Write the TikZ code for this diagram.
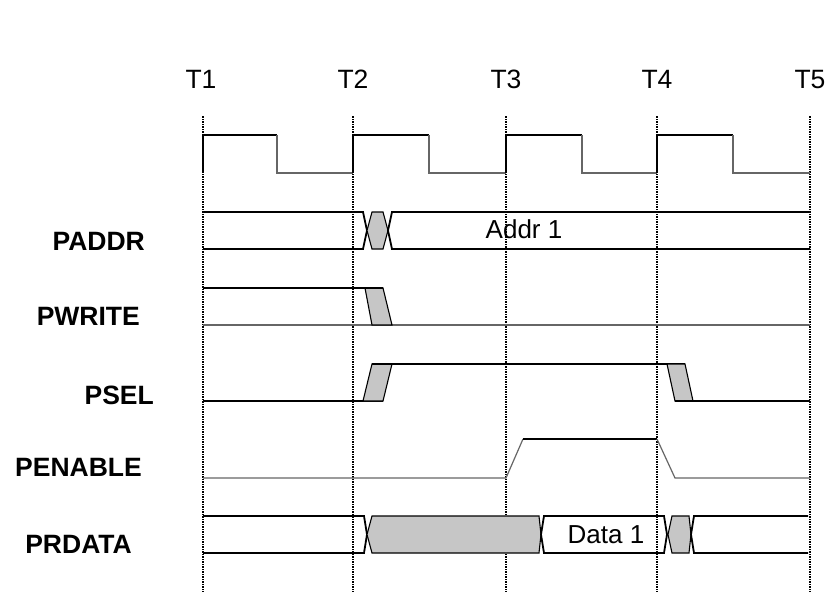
\documentclass[tikz,border=0pt]{standalone}
\usepackage{fontspec}
\setmainfont{Liberation Sans}
\usetikzlibrary{positioning}

\begin{document}
\begin{tikzpicture}[x=1pt,y=-1pt,
		sig/.style={line width=1.8pt,line join=miter},
		weak/.style={line width=1.2pt,black!60},
		grid/.style={line width=1.1pt,dash pattern=on 1.8pt off 1.2pt on 0.8pt off 1.2pt},
		trans/.style={fill=gray!45,draw=black,line width=1.1pt},
		sname/.style={font=\fontsize{26.5}{30}\selectfont\bfseries,inner sep=0pt,anchor=base east},
		tname/.style={font=\fontsize{26.5}{30}\selectfont,inner sep=0pt,anchor=base}]
			\useasboundingbox (0,0) rectangle (828,592);
			% clock edges
			\node[tname] (t_1) at (201,88.5) {T1};
			\node[tname] (t_2) at (353,88.5) {T2};
			\node[tname] (t_3) at (506,88.5) {T3};
			\node[tname] (t_4) at (657,88.5) {T4};
			\node[tname] (t_5) at (810,88.5) {T5};
			\draw[grid] (203,116) -- (203,592);
			\draw[grid] (353,116) -- (353,592);
			\draw[grid] (506,116) -- (506,592);
			\draw[grid] (657,116) -- (657,592);
			\draw[grid] (810,116) -- (810,592);
			% signal names
			\node[sname] (l_paddr) at (145,250) {PADDR};
			\node[sname] (l_pwrite) at (140,325) {PWRITE};
			\node[sname] (l_psel) at (154,404) {PSEL};
			\node[sname] (l_penable) at (142,476) {PENABLE};
			\node[sname] (l_prdata) at (132,553) {PRDATA};
			% PCLK
			\draw[sig] (203,173) -- (203,135) -- (277,135);
			\draw[weak] (277,135) -- (277,173) -- (353,173);
			\draw[sig] (353,173) -- (353,135) -- (429,135);
			\draw[weak] (429,135) -- (429,173) -- (506,173);
			\draw[sig] (506,173) -- (506,135) -- (582,135);
			\draw[weak] (582,135) -- (582,173) -- (657,173);
			\draw[sig] (657,173) -- (657,135) -- (733,135);
			\draw[weak] (733,135) -- (733,173) -- (810,173);
			% PADDR
			\draw[sig] (203,212) -- (363,212) -- (367,230.5) -- (363,249) -- (203,249);
			\filldraw[trans] (367,230.5) -- (372,212) -- (383,212) -- (388,230.5) -- (383,249) -- (372,249) -- cycle;
			\draw[sig] (810,212) -- (392,212) -- (388,230.5) -- (392,249) -- (810,249);
			\node (v_addr) at (524,229) {\fontsize{26}{30}\selectfont Addr 1};
			% PWRITE
			\draw[weak] (203,325) -- (810,325);
			\filldraw[trans] (365,288) -- (383,288) -- (392,325) -- (372,325) -- cycle;
			\draw[sig] (203,288) -- (383,288);
			% PSEL
			\draw[sig] (203,401) -- (383,401);
			\filldraw[trans] (363,401) -- (383,401) -- (392,364) -- (372,364) -- cycle;
			\draw[sig] (372,364) -- (685,364);
			\filldraw[trans] (667,364) -- (685,364) -- (693,401) -- (675,401) -- cycle;
			\draw[sig] (675,401) -- (810,401);
			% PENABLE
			\draw[weak] (203,478) -- (506,478) -- (523,439);
			\draw[sig] (523,439) -- (657,439);
			\draw[weak] (657,439) -- (675,478) -- (810,478);
			% PRDATA
			\draw[sig] (203,516) -- (364,516) -- (367,534.5) -- (364,553) -- (203,553);
			\filldraw[trans] (367,534.5) -- (372,516) -- (539,516) -- (541,534.5) -- (539,553) -- (372,553) -- cycle;
			\draw[sig] (541,534.5) -- (544,516) -- (664,516) -- (667,534.5) -- (664,553) -- (544,553) -- cycle;
			\filldraw[trans] (668,534.5) -- (672,516) -- (689,516) -- (691,534.5) -- (689,553) -- (672,553) -- cycle;
			\draw[sig] (808,516) -- (694,516) -- (691,534.5) -- (694,553) -- (808,553);
			\node (v_data) at (606,535) {\fontsize{26}{30}\selectfont Data 1};
		\end{tikzpicture}
\end{document}
